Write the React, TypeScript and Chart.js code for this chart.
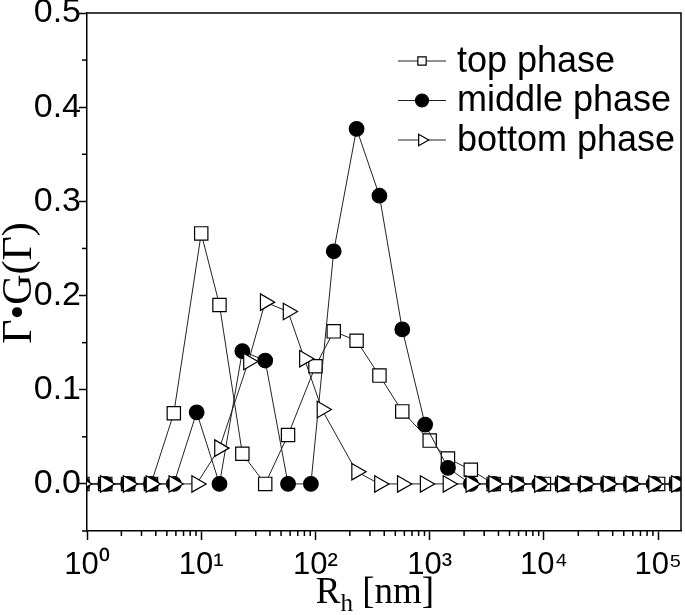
import React, { useEffect, useRef } from 'react';
import { Chart, registerables } from 'chart.js';

Chart.register(...registerables);

// ---- data ----
const rhTop = [0.912, 1.445, 2.291, 3.631, 5.754, 10, 14.45, 22.91, 36.31, 57.54, 100, 144.5, 229.1, 363.1, 575.4, 1000, 1445, 2291, 3631, 5754, 10000, 14454, 22909, 36308, 57544, 100000, 144544];
const rhMiddle = [0.912, 1.445, 2.291, 3.631, 5.754, 9.12, 14.45, 22.91, 36.31, 57.54, 91.2, 144.5, 229.1, 363.1, 575.4, 912, 1445, 2291, 3631, 5754, 9120, 14454, 22909, 36308, 57544, 91201, 144544];
const rhBottom = [0.912, 1.445, 2.291, 3.631, 5.754, 9.12, 14.45, 25.9, 36.31, 57.54, 80, 114, 229.1, 363.1, 575.4, 912, 1445, 2291, 3631, 5754, 9120, 14454, 22909, 36308, 57544, 91201, 144544];

const topPhase = [0, 0, 0, 0, 0.075, 0.266, 0.19, 0.032, 0, 0.052, 0.125, 0.162, 0.152, 0.115, 0.077, 0.046, 0.027, 0.015, 0, 0, 0, 0, 0, 0, 0, 0, 0];
const middlePhase = [0, 0, 0, 0, 0, 0.076, 0, 0.141, 0.131, 0, 0, 0.247, 0.377, 0.306, 0.164, 0.063, 0.017, 0, 0, 0, 0, 0, 0, 0, 0, 0, 0];
const bottomPhase = [0, 0, 0, 0, 0, 0, 0.038, 0.13, 0.193, 0.183, 0.133, 0.079, 0.013, 0, 0, 0, 0, 0, 0, 0, 0, 0, 0, 0, 0, 0, 0];

const seriesNames = ['top phase', 'middle phase', 'bottom phase'];
const xDecades = [1, 10, 100, 1000, 10000, 100000];
const xMultipliers = [1, 2, 3, 4, 5, 6, 7, 8, 9];
const supDigits = ['\u2070', '\u00B9', '\u00B2', '\u00B3', '\u2074', '\u2075'];
const xMin = 1;
const xMax = 158489;
const yMin = -0.05;
const yMax = 0.5;
const yTitle = 'Γ•G(Γ)';
const xTitleMain = 'R';
const xTitleSub = 'h';
const xTitleRest = ' [nm]';

const SANS = "'Liberation Sans', Arial, sans-serif";
const SERIF = "'Liberation Serif', 'Times New Roman', serif";

const pts = (xs: number[], ys: number[]) => xs.map((x, i) => ({ x, y: ys[i] }));
const isDecade = (v: number) => {
  const l = Math.log10(v);
  return Math.abs(l - Math.round(l)) < 1e-9;
};
const isTenth = (v: number) => Math.abs(v * 10 - Math.round(v * 10)) < 1e-6;

function drawMarker(ctx: CanvasRenderingContext2D, kind: string, x: number, y: number, r: number) {
  ctx.beginPath();
  if (kind === 'rect') {
    const s = r * Math.SQRT1_2;
    ctx.rect(x - s, y - s, 2 * s, 2 * s);
    ctx.fillStyle = '#fff';
  } else if (kind === 'circle') {
    ctx.arc(x, y, r, 0, Math.PI * 2);
    ctx.fillStyle = '#000';
  } else {
    ctx.moveTo(x + r, y);
    ctx.lineTo(x - r / 2, y - r * 0.866);
    ctx.lineTo(x - r / 2, y + r * 0.866);
    ctx.closePath();
    ctx.fillStyle = '#fff';
  }
  ctx.fill();
  ctx.stroke();
}

const extrasPlugin = {
  id: 'extras',
  afterDraw(chart: any) {
    const ctx: CanvasRenderingContext2D = chart.ctx;
    const { left, right, top, bottom } = chart.chartArea;
    ctx.save();
    ctx.strokeStyle = '#000';
    ctx.lineWidth = 1.5;
    // frame top + right
    ctx.beginPath();
    ctx.moveTo(left, top);
    ctx.lineTo(right, top);
    ctx.lineTo(right, bottom);
    ctx.stroke();
    // minor ticks
    const xs = chart.scales.x;
    xs.ticks.forEach((t: any) => {
      if (!isDecade(t.value)) {
        const p = xs.getPixelForValue(t.value);
        ctx.beginPath();
        ctx.moveTo(p, bottom);
        ctx.lineTo(p, bottom + 5);
        ctx.stroke();
      }
    });
    const ys = chart.scales.y;
    ys.ticks.forEach((t: any) => {
      if (!isTenth(t.value)) {
        const p = ys.getPixelForValue(t.value);
        ctx.beginPath();
        ctx.moveTo(left, p);
        ctx.lineTo(left - 5, p);
        ctx.stroke();
      }
    });
    // legend
    const kinds = ['rect', 'circle', 'triangle'];
    const radii = [5.9, 6.5, 6.7];
    ctx.font = `36px ${SANS}`;
    ctx.textBaseline = 'middle';
    ctx.textAlign = 'left';
    seriesNames.forEach((name, i) => {
      const y = top + 48 + i * 39.5;
      ctx.lineWidth = 1;
      ctx.strokeStyle = '#222';
      ctx.beginPath();
      ctx.moveTo(398, y);
      ctx.lineTo(446, y);
      ctx.stroke();
      ctx.strokeStyle = '#000';
      ctx.lineWidth = 1.2;
      drawMarker(ctx, kinds[i], 422, y, radii[i]);
      ctx.fillStyle = '#000';
      ctx.fillText(name, 457, y + 1);
    });
    // y-axis title
    ctx.save();
    ctx.translate(20, 283);
    ctx.rotate(-Math.PI / 2);
    ctx.font = `42px ${SERIF}`;
    ctx.textAlign = 'center';
    ctx.textBaseline = 'middle';
    ctx.fillStyle = '#000';
    ctx.fillText(yTitle, 0, 0);
    ctx.restore();
    // x-axis title with subscript
    const big = `37px ${SERIF}`;
    const small = `25px ${SERIF}`;
    ctx.font = big;
    const w1 = ctx.measureText(xTitleMain).width;
    const w3 = ctx.measureText(xTitleRest).width;
    ctx.font = small;
    const w2 = ctx.measureText(xTitleSub).width;
    const cx = 375;
    const base = 603;
    let x0 = cx - (w1 + w2 + w3) / 2;
    ctx.fillStyle = '#000';
    ctx.textAlign = 'left';
    ctx.textBaseline = 'alphabetic';
    ctx.font = big;
    ctx.fillText(xTitleMain, x0, base);
    x0 += w1;
    ctx.font = small;
    ctx.fillText(xTitleSub, x0, base + 8);
    x0 += w2;
    ctx.font = big;
    ctx.fillText(xTitleRest, x0, base);
    ctx.restore();
  },
};

export default function App() {
  const ref = useRef<HTMLCanvasElement>(null);
  useEffect(() => {
    if (!ref.current) return;
    const line = { borderColor: '#222', borderWidth: 1, tension: 0, clip: 0, pointBorderColor: '#000', pointBorderWidth: 1.2 };
    const chart = new Chart(ref.current, {
      type: 'line',
      data: {
        datasets: [
          { ...line, label: seriesNames[0], data: pts(rhTop, topPhase), pointStyle: 'rect', pointRadius: 9.4, pointBackgroundColor: '#fff', order: 3 },
          { ...line, label: seriesNames[1], data: pts(rhMiddle, middlePhase), pointStyle: 'circle', pointRadius: 7.3, pointBackgroundColor: '#000', order: 2 },
          { ...line, label: seriesNames[2], data: pts(rhBottom, bottomPhase), pointStyle: 'triangle', pointRotation: 90, pointRadius: 9.5, pointBackgroundColor: '#fff', order: 1 },
        ] as any,
      },
      options: {
        animation: false,
        responsive: false,
        devicePixelRatio: 1,
        layout: { autoPadding: false, padding: { top: 13, right: 4, left: 0, bottom: 0 } },
        plugins: { legend: { display: false }, tooltip: { enabled: false } },
        scales: {
          x: {
            type: 'logarithmic',
            min: xMin,
            max: xMax,
            afterBuildTicks: (scale: any) => {
              const t: any[] = [];
              xDecades.forEach((d) => xMultipliers.forEach((m) => {
                const v = d * m;
                if (v <= xMax) t.push({ value: v, major: m === 1 });
              }));
              scale.ticks = t;
            },
            afterFit: (scale: any) => {
              scale.height = 84;
              scale.paddingLeft = 0;
              scale.paddingRight = 0;
            },
            grid: {
              drawOnChartArea: false,
              tickLength: 9,
              tickWidth: 1.5,
              tickColor: (c: any) => (c.tick && isDecade(c.tick.value) ? '#000' : 'rgba(0,0,0,0)'),
            },
            border: { display: true, color: '#000', width: 1.5 },
            ticks: {
              autoSkip: false,
              maxRotation: 0,
              padding: 7,
              color: '#000',
              font: { family: SANS, size: 31 },
              callback: (v: any) => {
                const n = Number(v);
                return isDecade(n) ? '10' + supDigits[Math.round(Math.log10(n))] : '';
              },
            },
          },
          y: {
            type: 'linear',
            min: yMin,
            max: yMax,
            afterFit: (scale: any) => {
              scale.width = 87;
              scale.paddingTop = 0;
              scale.paddingBottom = 0;
            },
            grid: {
              drawOnChartArea: false,
              tickLength: 8,
              tickWidth: 1.5,
              tickColor: (c: any) => (c.tick && isTenth(c.tick.value) ? '#000' : 'rgba(0,0,0,0)'),
            },
            border: { display: true, color: '#000', width: 1.5 },
            title: { display: false, text: yTitle },
            ticks: {
              stepSize: 0.05,
              padding: -2,
              color: '#000',
              font: { family: SANS, size: 34 },
              callback: (v: any) => (isTenth(Number(v)) ? Number(v).toFixed(1) : ''),
            },
          },
        },
      } as any,
      plugins: [extrasPlugin],
    });
    return () => chart.destroy();
  }, []);
  return (
    <div style={{ position: 'fixed', left: 0, top: 0, width: 685, height: 615, background: '#fff' }}>
      <canvas ref={ref} width={685} height={615} />
    </div>
  );
}
